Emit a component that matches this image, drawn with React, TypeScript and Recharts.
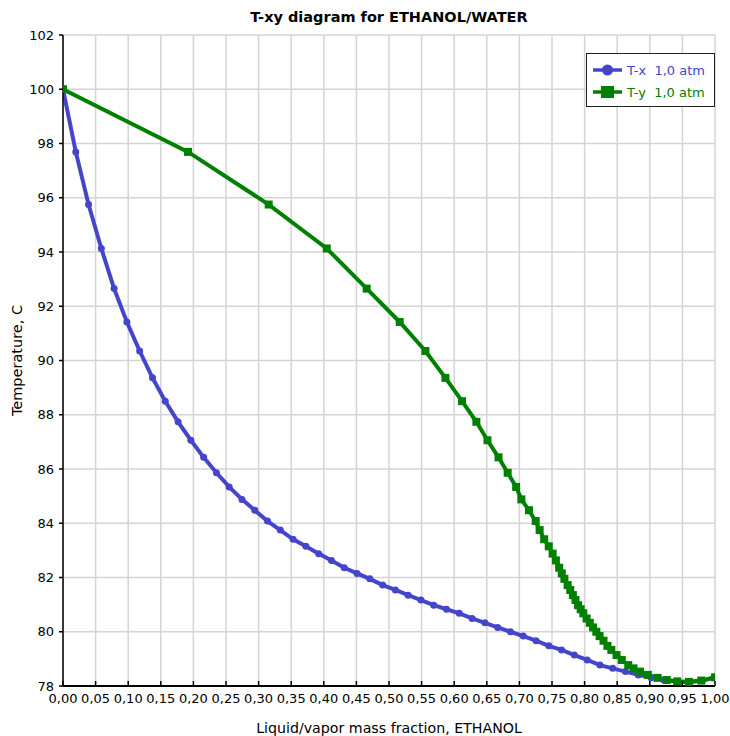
import React from "react";
import {
  LineChart,
  Line,
  XAxis,
  YAxis,
  CartesianGrid,
  Legend,
} from "recharts";

// Liquid mass fraction of ethanol (T-x points)
const liquidX = [
  0, 0.0196, 0.0392, 0.0588, 0.0784, 0.098, 0.1176, 0.1373, 0.1569, 0.1765,
  0.1961, 0.2157, 0.2353, 0.2549, 0.2745, 0.2941, 0.3137, 0.3333, 0.3529, 0.3725,
  0.3922, 0.4118, 0.4314, 0.451, 0.4706, 0.4902, 0.5098, 0.5294, 0.549, 0.5686,
  0.5882, 0.6078, 0.6275, 0.6471, 0.6667, 0.6863, 0.7059, 0.7255, 0.7451, 0.7647,
  0.7843, 0.8039, 0.8235, 0.8431, 0.8627, 0.8824, 0.902, 0.9216, 0.9412, 0.9608,
  0.9804, 1.0,
];

// Vapor mass fraction of ethanol in equilibrium (T-y points)
const vaporY = [
  0, 0.1917, 0.3155, 0.4045, 0.4658, 0.5164, 0.5558, 0.5865, 0.612, 0.634,
  0.651, 0.668, 0.682, 0.695, 0.703, 0.7147, 0.725, 0.731, 0.738, 0.745,
  0.751, 0.756, 0.761, 0.765, 0.769, 0.774, 0.778, 0.782, 0.786, 0.79,
  0.794, 0.798, 0.803, 0.808, 0.813, 0.818, 0.823, 0.829, 0.835, 0.841,
  0.849, 0.857, 0.867, 0.875, 0.885, 0.897, 0.912, 0.926, 0.942, 0.96,
  0.979, 1.0,
];

// Equilibrium temperature, C
const temperature = [
  100.0, 97.69, 95.75, 94.13, 92.65, 91.42, 90.35, 89.36, 88.5, 87.74,
  87.06, 86.43, 85.86, 85.34, 84.88, 84.48, 84.08, 83.75, 83.41, 83.15,
  82.88, 82.63, 82.36, 82.15, 81.95, 81.72, 81.54, 81.35, 81.17, 80.98,
  80.83, 80.68, 80.49, 80.33, 80.16, 80.0, 79.84, 79.67, 79.48, 79.33,
  79.14, 78.96, 78.77, 78.65, 78.53, 78.41, 78.3, 78.22, 78.17, 78.15,
  78.2, 78.32,
];

const xTicks = [
  0, 0.05, 0.1, 0.15, 0.2, 0.25, 0.3, 0.35, 0.4, 0.45, 0.5,
  0.55, 0.6, 0.65, 0.7, 0.75, 0.8, 0.85, 0.9, 0.95, 1.0,
];
const yTicks = [78, 80, 82, 84, 86, 88, 90, 92, 94, 96, 98, 100, 102];

const seriesNames = ["T-x  1,0 atm", "T-y  1,0 atm"];
const TITLE = "T-xy diagram for ETHANOL/WATER";
const X_LABEL = "Liquid/vapor mass fraction, ETHANOL";
const Y_LABEL = "Temperature, C";

const BLUE = "#4545cc";
const GREEN = "#008000";
const FONT = "'DejaVu Sans', Verdana, sans-serif";

const liquidData = liquidX.map((x, i) => ({ x, T: temperature[i] }));
const vaporData = vaporY.map((x, i) => ({ x, T: temperature[i] }));

const fmtX = (v: number) => v.toFixed(2).replace(".", ",");

const XTick = (props: any) => {
  const { x, y, payload } = props;
  return (
    <g>
      <line x1={x} x2={x} y1={y} y2={y - 5} stroke="#000" strokeWidth={1.5} />
      <text
        x={x}
        y={y + 8}
        dy="0.71em"
        textAnchor="middle"
        fontSize={13}
        fill="#000"
        fontFamily={FONT}
      >
        {fmtX(payload.value)}
      </text>
    </g>
  );
};

const CircleDot = (props: any) => {
  const { cx, cy } = props;
  if (cx == null || cy == null) return null;
  return <circle cx={cx} cy={cy} r={3.5} fill={BLUE} stroke="none" />;
};

const SquareDot = (props: any) => {
  const { cx, cy } = props;
  if (cx == null || cy == null) return null;
  return <rect x={cx - 4} y={cy - 4} width={8} height={8} fill={GREEN} />;
};

const LegendContent = () => (
  <div
    style={{
      border: "1.5px solid #222",
      background: "#fff",
      width: 129,
      height: 54,
      boxSizing: "border-box",
      paddingTop: 5,
      fontFamily: FONT,
      fontSize: 13,
    }}
  >
    <div style={{ display: "flex", alignItems: "center", height: 22 }}>
      <svg width={40} height={16} style={{ display: "block" }}>
        <line x1={6} x2={35} y1={8} y2={8} stroke={BLUE} strokeWidth={3.5} />
        <circle cx={20.5} cy={8} r={5.5} fill={BLUE} />
      </svg>
      <span style={{ color: BLUE, whiteSpace: "pre" }}>{seriesNames[0]}</span>
    </div>
    <div style={{ display: "flex", alignItems: "center", height: 22 }}>
      <svg width={40} height={16} style={{ display: "block" }}>
        <line x1={6} x2={35} y1={8} y2={8} stroke={GREEN} strokeWidth={3.5} />
        <rect x={14} y={2} width={13} height={12} fill={GREEN} />
      </svg>
      <span style={{ color: GREEN, whiteSpace: "pre" }}>{seriesNames[1]}</span>
    </div>
  </div>
);

export default function App() {
  return (
    <div
      style={{
        position: "absolute",
        left: 0,
        top: 0,
        width: 730,
        height: 736,
        background: "#fff",
        fontFamily: FONT,
      }}
    >
      <div
        style={{
          position: "absolute",
          left: 63,
          width: 652,
          top: 9,
          textAlign: "center",
          fontWeight: "bold",
          fontSize: 14.5,
          color: "#000",
        }}
      >
        {TITLE}
      </div>
      <LineChart
        width={730}
        height={736}
        margin={{ top: 35, right: 15, bottom: 0, left: 13 }}
      >
        <CartesianGrid stroke="#d4d4d4" strokeWidth={1.5} />
        <XAxis
          type="number"
          dataKey="x"
          domain={[0, 1]}
          ticks={xTicks}
          interval={0}
          height={50}
          tickSize={0}
          tickMargin={0}
          tickLine={false}
          tick={<XTick />}
          axisLine={{ stroke: "#000", strokeWidth: 2 }}
          allowDataOverflow
          label={{
            content: (p: any) => {
              const vb = p.viewBox || {};
              return (
                <text
                  x={vb.x + vb.width / 2}
                  y={vb.y + 47}
                  textAnchor="middle"
                  fontSize={14.2}
                  fill="#000"
                  fontFamily={FONT}
                >
                  {X_LABEL}
                </text>
              );
            },
          }}
        />
        <YAxis
          type="number"
          dataKey="T"
          domain={[78, 102]}
          ticks={yTicks}
          interval={0}
          width={50}
          tickSize={4}
          tickMargin={5}
          tick={{ fill: "#000", fontSize: 13, fontFamily: FONT }}
          tickLine={{ stroke: "#000", strokeWidth: 1.5 }}
          axisLine={{ stroke: "#000", strokeWidth: 1.5 }}
          allowDataOverflow
          label={{
            content: (p: any) => {
              const vb = p.viewBox || {};
              const cx = 18;
              const cy = vb.y + vb.height / 2;
              return (
                <text
                  x={cx}
                  y={cy}
                  transform={`rotate(-90 ${cx} ${cy})`}
                  textAnchor="middle"
                  dominantBaseline="middle"
                  fontSize={14.5}
                  fill="#000"
                  fontFamily={FONT}
                >
                  {Y_LABEL}
                </text>
              );
            },
          }}
        />
        <Legend
          layout="horizontal"
          verticalAlign="middle"
          align="center"
          content={<LegendContent />}
          wrapperStyle={{ position: "absolute", left: 586, top: 53, width: 129 }}
        />
        <Line
          data={liquidData}
          dataKey="T"
          name={seriesNames[0]}
          stroke={BLUE}
          strokeWidth={4}
          dot={<CircleDot />}
          activeDot={false}
          isAnimationActive={false}
          type="linear"
        />
        <Line
          data={vaporData}
          dataKey="T"
          name={seriesNames[1]}
          stroke={GREEN}
          strokeWidth={4}
          dot={<SquareDot />}
          activeDot={false}
          isAnimationActive={false}
          type="linear"
        />
      </LineChart>
    </div>
  );
}
